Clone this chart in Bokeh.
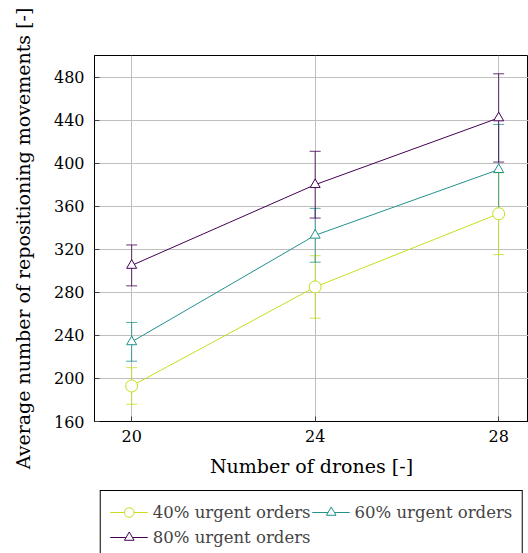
from bokeh.plotting import figure
from bokeh.models import (ColumnDataSource, Whisker, Legend, LegendItem, FixedTicker,
                          TeeHead, Range1d)
from bokeh.layouts import column
from bokeh.embed import file_html
from bokeh.resources import INLINE

# ---- data ----
drones = [20, 24, 28]
series_labels = ["40% urgent orders", "60% urgent orders", "80% urgent orders"]
mean_40 = [193, 285, 353]
err_40 = [17, 29, 38]
mean_60 = [234, 333, 394]
err_60 = [18, 25, 42]
mean_80 = [305, 380, 442]
err_80 = [19, 31, 41]
y_ticks = [160, 200, 240, 280, 320, 360, 400, 440, 480]
x_ticks = [20, 24, 28]

colors = ["#c8dd1c", "#21918c", "#440154"]
markers = ["circle", "triangle", "triangle"]
sizes = [12, 10, 10]

FONT = "DejaVu Serif"
TICK_FS = "16px"
LABEL_FS = "19px"
LEG_FS = "16.5px"

p = figure(width=528, height=485, x_range=Range1d(19.19, 28.65), y_range=Range1d(160, 500),
           output_backend="svg", toolbar_location=None,
           min_border_left=94, min_border_right=0, min_border_top=55, min_border_bottom=64)

p.outline_line_color = "black"
p.outline_line_width = 1
p.background_fill_color = "white"
p.border_fill_color = "white"

p.xaxis.ticker = FixedTicker(ticks=x_ticks)
p.yaxis.ticker = FixedTicker(ticks=y_ticks)
for ax in (p.xaxis[0], p.yaxis[0]):
    ax.major_tick_in = 5
    ax.major_tick_out = 0
    ax.minor_tick_line_color = None
    ax.axis_line_color = "black"
    ax.major_tick_line_color = "#404040"
    ax.major_label_text_font = FONT
    ax.major_label_text_font_size = TICK_FS
    ax.major_label_text_color = "black"
    ax.axis_label_text_font = FONT
    ax.axis_label_text_font_size = LABEL_FS
    ax.axis_label_text_font_style = "normal"
    ax.axis_label_text_color = "black"

p.xaxis.axis_label = "Number of drones [-]"
p.yaxis.axis_label = "Average number of repositioning movements [-]"
p.xaxis.major_label_standoff = 8
p.xaxis.axis_label_standoff = 10
p.yaxis.major_label_standoff = 10
p.yaxis.axis_label_standoff = 17

p.xgrid.ticker = FixedTicker(ticks=x_ticks)
p.ygrid.ticker = FixedTicker(ticks=y_ticks)
p.grid.grid_line_color = "#bfbfbf"
p.grid.grid_line_width = 1

# separate strip holding the legend below the axes
p2 = figure(width=528, height=68, x_range=Range1d(0, 1), y_range=Range1d(0, 1),
            output_backend="svg", toolbar_location=None,
            x_axis_location=None, y_axis_location=None,
            min_border_left=94, min_border_right=0, min_border_top=0, min_border_bottom=0)
p2.outline_line_color = None
p2.grid.visible = False

means = [mean_40, mean_60, mean_80]
errs = [err_40, err_60, err_80]
items = []
for lab, m, e, c, mk, sz in zip(series_labels, means, errs, colors, markers, sizes):
    src = ColumnDataSource(dict(x=drones, y=m,
                                upper=[a + b for a, b in zip(m, e)],
                                lower=[a - b for a, b in zip(m, e)]))
    p.line("x", "y", source=src, line_color=c, line_width=1)
    w = Whisker(base="x", upper="upper", lower="lower", source=src,
                line_color=c, line_alpha=0.8, line_width=1,
                upper_head=TeeHead(size=11, line_color=c, line_alpha=0.8, line_width=1),
                lower_head=TeeHead(size=11, line_color=c, line_alpha=0.8, line_width=1))
    p.add_layout(w)
    p.scatter("x", "y", source=src, marker=mk, size=sz, line_color=c,
              fill_color="white", line_width=1)
    # same series in the legend strip (outside its visible range)
    ln2 = p2.line("x", "y", source=src, line_color=c, line_width=1)
    sc2 = p2.scatter("x", "y", source=src, marker=mk, size=sz - 2, line_color=c,
                     fill_color="white", line_width=1)
    items.append(LegendItem(label=lab, renderers=[ln2, sc2]))

legend = Legend(items=items, orientation="horizontal", ncols=2, location="top_center",
                border_line_color="black", border_line_width=1, border_line_alpha=1,
                label_text_font=FONT, label_text_font_size=LEG_FS,
                glyph_width=38, glyph_height=24, label_standoff=5, spacing=1,
                padding=9, margin=5, background_fill_alpha=1)
p2.add_layout(legend, "center")

open("out.html", "w").write(file_html(column(p, p2, spacing=0), INLINE))
